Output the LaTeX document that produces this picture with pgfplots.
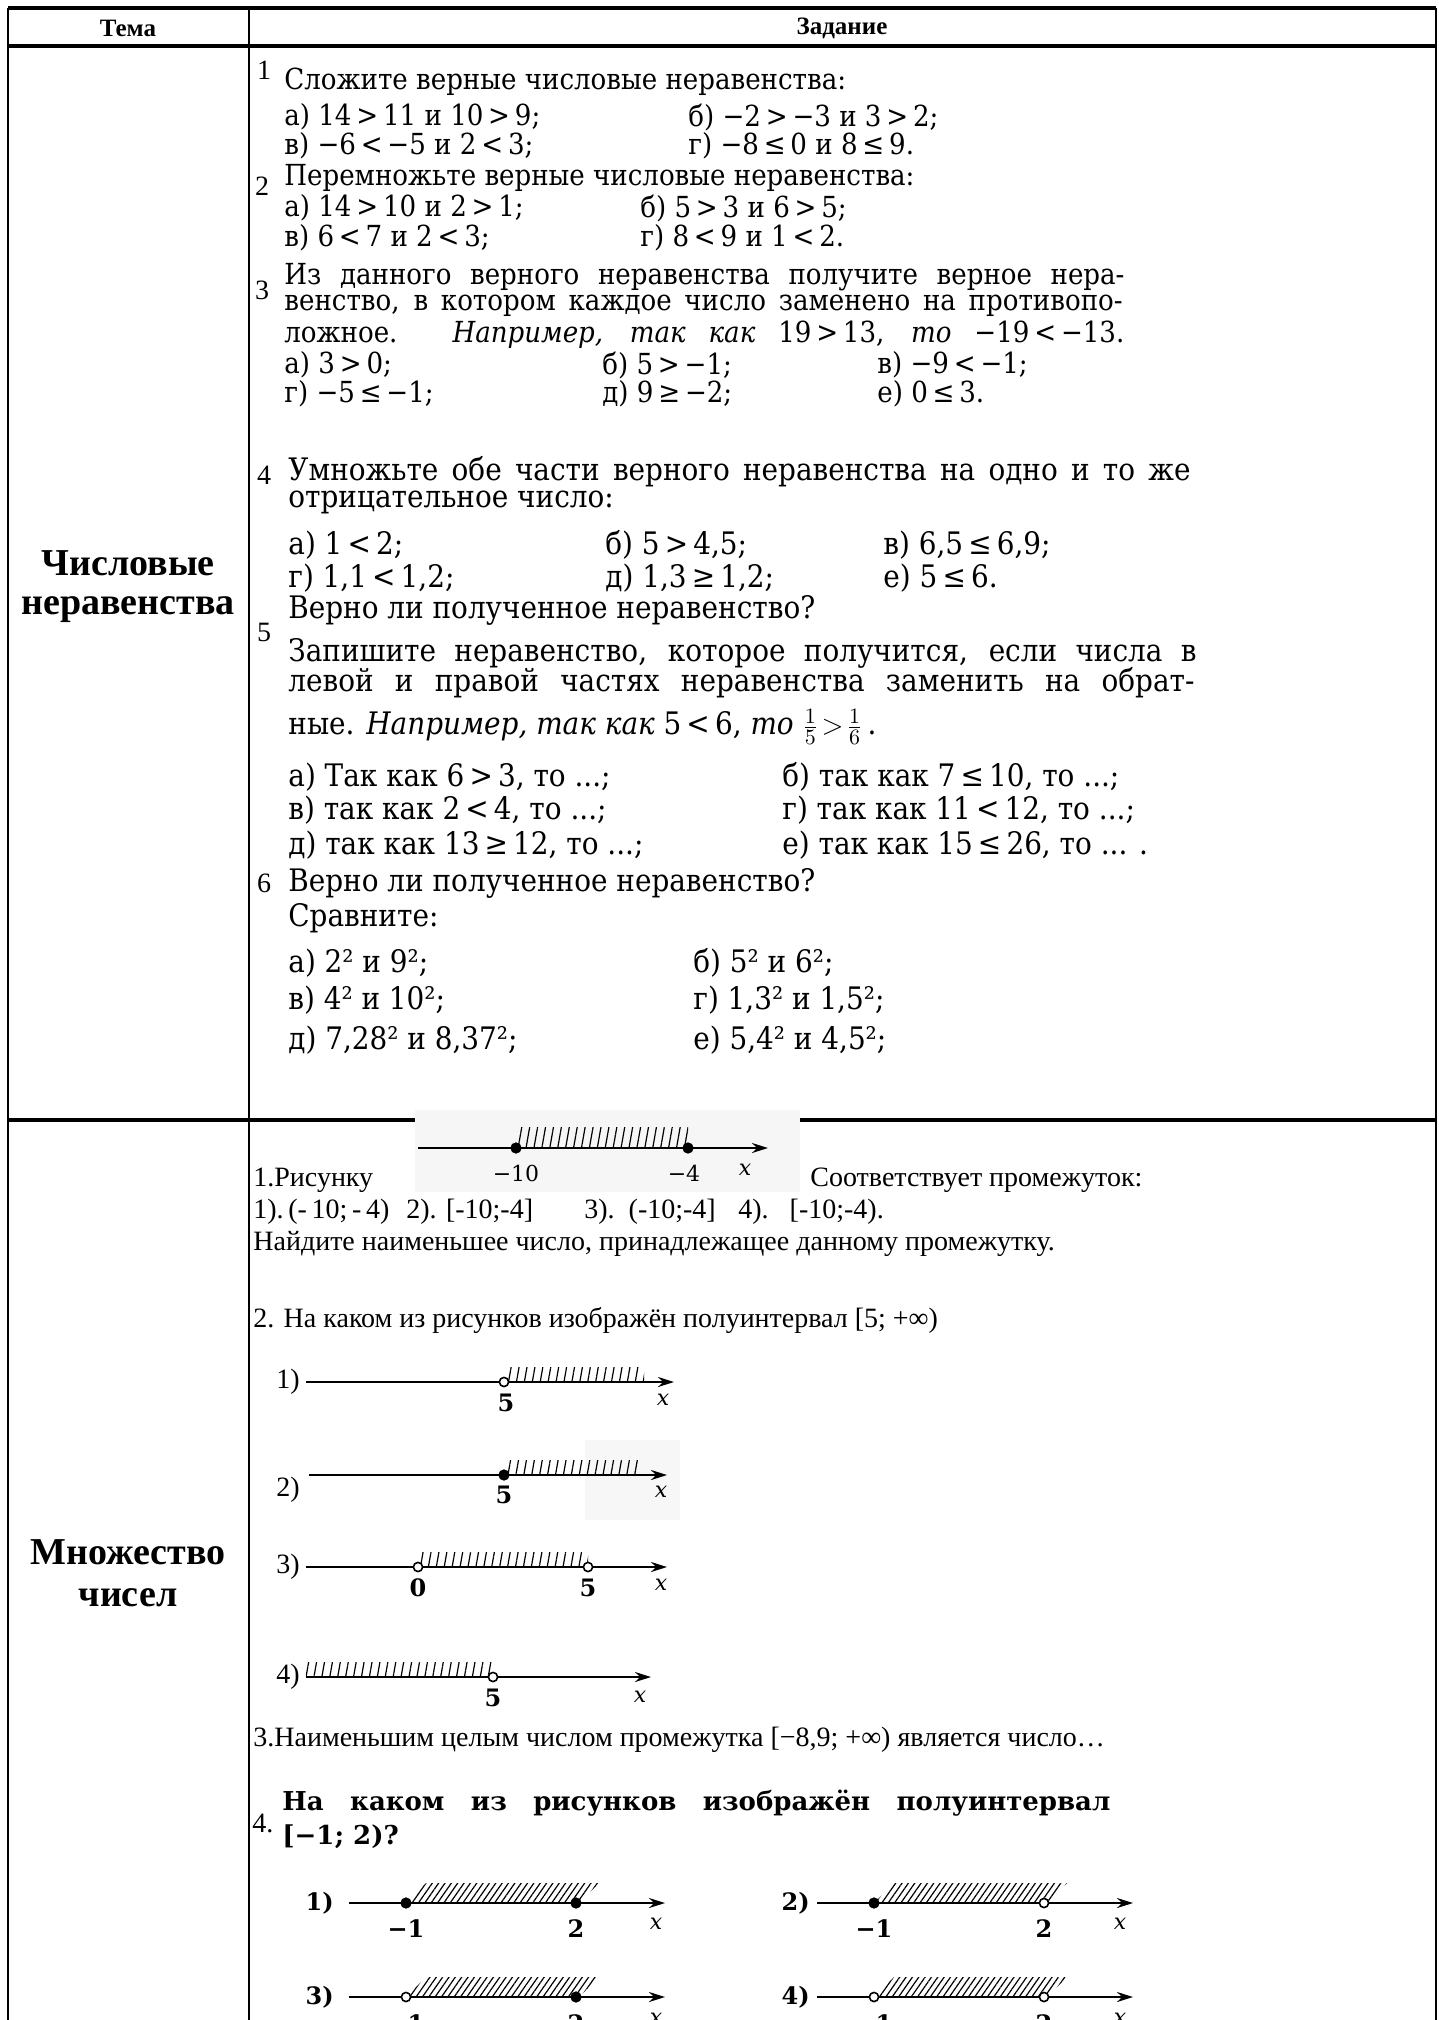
\documentclass[border=0pt]{standalone}
\usepackage{fontspec}
\setmainfont{Liberation Serif}
\newfontfamily\tb{DejaVu Serif Condensed}
\newfontfamily\tbw{DejaVu Serif}
\usepackage{pgfplots}
\pgfplotsset{compat=1.18}
\usetikzlibrary{arrows.meta,patterns.meta}

\newcommand\TB{\tb\fontsize{14.5}{16}\selectfont}
\newcommand\TC{\tb\fontsize{15.5}{17}\selectfont}
\newcommand\TM{\fontsize{14}{16}\selectfont}
\newcommand\LB{\tbw\fontsize{11}{12}\selectfont}
\newcommand\LBB{\tbw\bfseries\fontsize{12}{13}\selectfont}

\tikzset{
  t/.style={anchor=west, inner sep=0pt},
  hb/.style={line width=1.6pt},
  vb/.style={line width=0.9pt},
  nl/.style={line width=1.1pt, -{Stealth[length=8pt,width=5pt]}},
  dot/.style={only marks, mark=*, mark size=2.6pt},
  odot/.style={only marks, mark=*, mark size=2.3pt, mark options={fill=white, line width=0.8pt}},
  hv/.style={draw=none, pattern={Lines[angle=80,distance=3.9pt,line width=0.6pt]}},
  hd/.style={draw=none, pattern={Lines[angle=55,distance=2.6pt,line width=0.6pt]}},
}

\begin{document}
\begin{tikzpicture}
\begin{axis}[
  width=719.5pt, height=1010pt, scale only axis,
  xmin=0, xmax=1439, ymin=0, ymax=2020, y dir=reverse,
  axis lines=none, ticks=none, clip=true,
]
\coordinate (tl) at (axis cs:0,0);
\coordinate (br) at (axis cs:1439,2020);

% table rules
\addplot[hb] coordinates {(8,8) (1436,8)};
\addplot[hb] coordinates {(8,46) (1436,46)};
\addplot[hb] coordinates {(8,1120) (1436,1120)};
\addplot[vb] coordinates {(8,8) (8,2020)};
\addplot[vb] coordinates {(249,8) (249,2020)};
\addplot[vb] coordinates {(1436,8) (1436,2020)};

% header
\node[font=\bfseries\fontsize{12.5}{13}\selectfont] at (128,28) {Тема};
\node[font=\bfseries\fontsize{12.5}{13}\selectfont] at (842,28) {Задание};

% left column
\node[font=\bfseries\fontsize{19}{20}\selectfont] at (128,563) {Числовые};
\node[font=\bfseries\fontsize{19}{20}\selectfont] at (128,610) {неравенства};
\node[font=\bfseries\fontsize{19}{20}\selectfont] at (128,1552) {Множество};
\node[font=\bfseries\fontsize{19}{20}\selectfont] at (128,1598) {чисел};

% row 1: item numbers
\node[font=\TM] at (264,70) {1};
\node[font=\TM] at (262,186) {2};
\node[font=\TM] at (262,290) {3};
\node[font=\TM] at (264,475) {4};
\node[font=\TM] at (264,632) {5};
\node[font=\TM] at (264,883) {6};

% item 1
\node[t,font=\TB] at (284,82) {Сложите верные числовые неравенства:};
\node[t,font=\TB] at (284,117) {а) 14\,>\,11 и 10\,>\,9;};
\node[t,font=\TB] at (688,117) {б) −2\,>\,−3 и 3\,>\,2;};
\node[t,font=\TB] at (284,146) {в) −6\,<\,−5 и 2\,<\,3;};
\node[t,font=\TB] at (688,146) {г) −8\,≤\,0 и 8\,≤\,9.};
% item 2
\node[t,font=\TB] at (284,178) {Перемножьте верные числовые неравенства:};
\node[t,font=\TB] at (284,208) {а) 14\,>\,10 и 2\,>\,1;};
\node[t,font=\TB] at (640,208) {б) 5\,>\,3 и 6\,>\,5;};
\node[t,font=\TB] at (284,238) {в) 6\,<\,7 и 2\,<\,3;};
\node[t,font=\TB] at (640,238) {г) 8\,<\,9 и 1\,<\,2.};
% item 3
\node[t,font=\TB] at (284,277) {\makebox[420pt][s]{Из данного верного неравенства получите верное нера-}};
\node[t,font=\TB] at (284,306) {\makebox[419pt][s]{венство, в котором каждое число заменено на противопо-}};
\node[t,font=\TB] at (284,335) {\makebox[420pt][s]{ложное. \itshape Например, так как \upshape 19\,>\,13, \itshape то \upshape −19\,<\,−13.}};
\node[t,font=\TB] at (284,365) {а) 3\,>\,0;};
\node[t,font=\TB] at (602,365) {б) 5\,>\,−1;};
\node[t,font=\TB] at (877,365) {в) −9\,<\,−1;};
\node[t,font=\TB] at (284,394) {г) −5\,≤\,−1;};
\node[t,font=\TB] at (602,394) {д) 9\,≥\,−2;};
\node[t,font=\TB] at (877,394) {е) 0\,≤\,3.};
% item 4
\node[t,font=\TC] at (288,472) {\makebox[451pt][s]{Умножьте обе части верного неравенства на одно и то же}};
\node[t,font=\TC] at (288,502) {отрицательное число:};
\node[t,font=\TC] at (288,545) {а) 1\,<\,2;};
\node[t,font=\TC] at (605,545) {б) 5\,>\,4,5;};
\node[t,font=\TC] at (883,545) {в) 6,5\,≤\,6,9;};
\node[t,font=\TC] at (288,578) {г) 1,1\,<\,1,2;};
\node[t,font=\TC] at (605,578) {д) 1,3\,≥\,1,2;};
\node[t,font=\TC] at (883,578) {е) 5\,≤\,6.};
\node[t,font=\TC] at (288,610) {Верно ли полученное неравенство?};
% item 5
\node[t,font=\TC] at (288,653) {\makebox[454pt][s]{Запишите неравенство, которое получится, если числа в}};
\node[t,font=\TC] at (288,683) {\makebox[453pt][s]{левой и правой частях неравенства заменить на обрат-}};
\node[t,font=\TC] at (288,727) {ные. \itshape Например, так как \upshape 5\,<\,6, \itshape то \upshape $\frac{1}{5}\!>\!\frac{1}{6}$\,.};
\node[t,font=\TC] at (288,777) {а) Так как 6\,>\,3, то ...;};
\node[t,font=\TC] at (782,777) {б) так как 7\,≤\,10, то ...;};
\node[t,font=\TC] at (288,810) {в) так как 2\,<\,4, то ...;};
\node[t,font=\TC] at (782,810) {г) так как 11\,<\,12, то ...;};
\node[t,font=\TC] at (288,845) {д) так как 13\,≥\,12, то ...;};
\node[t,font=\TC] at (782,845) {е) так как 15\,≤\,26, то ... .};
% item 6
\node[t,font=\TC] at (288,883) {Верно ли полученное неравенство?};
\node[t,font=\TC] at (288,918) {Сравните:};
\node[t,font=\TC] at (288,963) {а) 2² и 9²;};
\node[t,font=\TC] at (693,963) {б) 5² и 6²;};
\node[t,font=\TC] at (288,1000) {в) 4² и 10²;};
\node[t,font=\TC] at (693,1000) {г) 1,3² и 1,5²;};
\node[t,font=\TC] at (288,1040) {д) 7,28² и 8,37²;};
\node[t,font=\TC] at (693,1040) {е) 5,4² и 4,5²;};

% row 2, task 1: picture
\addplot[draw=none, fill=gray!7] coordinates {(415,1110) (800,1110) (800,1192) (415,1192)};
\addplot[hv] coordinates {(516,1148) (516,1127) (688,1127) (688,1148)};
\addplot[nl] coordinates {(418,1148) (768,1148)};
\addplot[dot] coordinates {(516,1148) (688,1148)};
\node[font=\LB] at (516,1173) {−10};
\node[font=\LB] at (684,1173) {−4};
\node[font=\LB\itshape] at (745,1170) {x};

\node[t,font=\TM] at (253,1180) {1.Рисунку};
\node[t,font=\TM] at (810,1180) {Соответствует промежуток:};
\node[t,font=\TM] at (253,1212) {1).\,(-\,10;\,-\,4)};
\node[t,font=\TM] at (406,1212) {2). [-10;-4]};
\node[t,font=\TM] at (584,1212) {3).\ \ (-10;-4]};
\node[t,font=\TM] at (738,1212) {4).\ \ \ [-10;-4).};
\node[t,font=\TM] at (253,1244) {Найдите наименьшее число, принадлежащее данному промежутку.};

% task 2
\node[t,font=\TM] at (253,1320) {2. На каком из рисунков изображён полуинтервал [5; +∞)};
\node[anchor=east,inner sep=1pt,font=\TM] at (302,1382) {1)};
\addplot[hv] coordinates {(504,1382) (504,1367) (644,1367) (644,1382)};
\addplot[nl] coordinates {(306,1382) (674,1382)};
\addplot[odot] coordinates {(504,1382)};
\node[font=\LBB] at (506,1403) {5};
\node[font=\LB\itshape] at (663,1400) {x};

\addplot[draw=none, fill=gray!6] coordinates {(585,1440) (680,1440) (680,1520) (585,1520)};
\node[anchor=east,inner sep=1pt,font=\TM] at (302,1490) {2)};
\addplot[hv] coordinates {(504,1475) (504,1460) (640,1460) (640,1475)};
\addplot[nl] coordinates {(309,1475) (667,1475)};
\addplot[dot] coordinates {(504,1475)};
\node[font=\LBB] at (504,1495) {5};
\node[font=\LB\itshape] at (661,1492) {x};

\node[anchor=east,inner sep=1pt,font=\TM] at (302,1567) {3)};
\addplot[hv] coordinates {(418,1567) (418,1552) (588,1552) (588,1567)};
\addplot[nl] coordinates {(306,1567) (667,1567)};
\addplot[odot] coordinates {(418,1567) (588,1567)};
\node[font=\LBB] at (418,1588) {0};
\node[font=\LBB] at (588,1588) {5};
\node[font=\LB\itshape] at (661,1585) {x};

\node[anchor=east,inner sep=1pt,font=\TM] at (302,1677) {4)};
\addplot[hv] coordinates {(306,1677) (306,1662) (493,1662) (493,1677)};
\addplot[nl] coordinates {(306,1677) (651,1677)};
\addplot[odot] coordinates {(493,1677)};
\node[font=\LBB] at (493,1698) {5};
\node[font=\LB\itshape] at (640,1697) {x};

% task 3
\node[t,font=\TM] at (253,1740) {3.Наименьшим целым числом промежутка [−8,9; +∞) является число…};

% task 4
\node[t,font=\TM] at (252,1823) {4.};
\node[t,font=\tbw\bfseries\fontsize{13}{14}\selectfont] at (282,1803) {\makebox[414pt][s]{На каком из рисунков изображён полуинтервал}};
\node[t,font=\tbw\bfseries\fontsize{13}{14}\selectfont] at (282,1837) {[−1; 2)?};

% 1)
\node[anchor=east,inner sep=1pt,font=\LBB] at (336,1903) {1)};
\addplot[hd] coordinates {(406,1903) (426,1883) (599,1883) (579,1903)};
\addplot[nl] coordinates {(349,1903) (665,1903)};
\addplot[dot] coordinates {(406,1903) (576,1903)};
\node[font=\LBB] at (406,1929) {−1};
\node[font=\LBB] at (576,1929) {2};
\node[font=\LB\itshape] at (656,1924) {x};
% 2)
\node[anchor=east,inner sep=1pt,font=\LBB] at (812,1903) {2)};
\addplot[hd] coordinates {(874,1903) (894,1883) (1067,1883) (1047,1903)};
\addplot[nl] coordinates {(817,1903) (1133,1903)};
\addplot[dot] coordinates {(874,1903)};
\addplot[odot] coordinates {(1044,1903)};
\node[font=\LBB] at (874,1929) {−1};
\node[font=\LBB] at (1044,1929) {2};
\node[font=\LB\itshape] at (1120,1924) {x};
% 3)
\node[anchor=east,inner sep=1pt,font=\LBB] at (336,1997) {3)};
\addplot[hd] coordinates {(406,1997) (426,1977) (599,1977) (579,1997)};
\addplot[nl] coordinates {(349,1997) (665,1997)};
\addplot[odot] coordinates {(406,1997)};
\addplot[dot] coordinates {(576,1997)};
\node[font=\LBB] at (406,2024) {−1};
\node[font=\LBB] at (576,2024) {2};
\node[font=\LB\itshape] at (656,2019) {x};
% 4)
\node[anchor=east,inner sep=1pt,font=\LBB] at (812,1997) {4)};
\addplot[hd] coordinates {(874,1997) (894,1977) (1067,1977) (1047,1997)};
\addplot[nl] coordinates {(817,1997) (1133,1997)};
\addplot[odot] coordinates {(874,1997) (1044,1997)};
\node[font=\LBB] at (874,2024) {−1};
\node[font=\LBB] at (1044,2024) {2};
\node[font=\LB\itshape] at (1120,2019) {x};
\end{axis}
\pgfresetboundingbox
\path[use as bounding box] (tl) rectangle (br);
\end{tikzpicture}
\end{document}
